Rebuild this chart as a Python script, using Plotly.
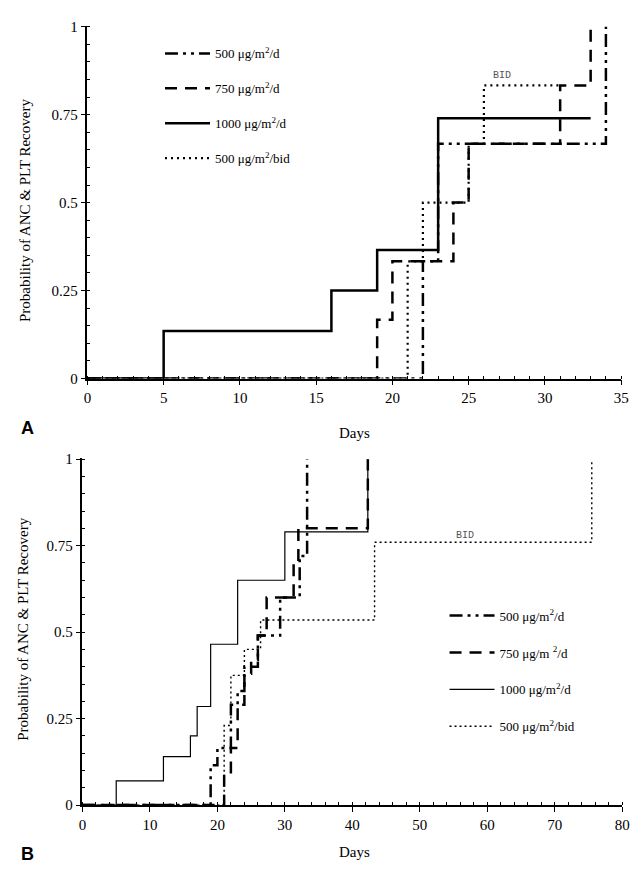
import plotly.graph_objects as go

W, H = 637, 875

# ---------------- Panel A data ----------------
a_500d_x = [0, 22, 23, 34, 34]
a_500d_y = [0, 0.333, 0.667, 0.667, 1.0]
a_750_x = [0, 19, 20, 24, 25, 31, 33, 33]
a_750_y = [0, 0.167, 0.333, 0.5, 0.667, 0.833, 0.833, 1.0]
a_1000_x = [0, 5, 16, 19, 23, 33]
a_1000_y = [0, 0.135, 0.25, 0.365, 0.74, 0.74]
a_bid_x = [0, 21, 22, 25, 26, 31]
a_bid_y = [0, 0.333, 0.5, 0.667, 0.833, 0.833]

# ---------------- Panel B data ----------------
b_500d_x = [0, 19, 20, 22, 23, 24, 26, 29.3, 32.2, 33.3, 33.3]
b_500d_y = [0, 0.115, 0.165, 0.29, 0.33, 0.4, 0.49, 0.6, 0.72, 0.72, 1.0]
b_750_x = [0, 21, 22, 23, 24, 25, 26, 27.3, 31.3, 32, 42.3, 42.3]
b_750_y = [0, 0.095, 0.165, 0.29, 0.38, 0.42, 0.49, 0.6, 0.7, 0.8, 0.8, 1.0]
b_1000_x = [0, 5, 12, 16, 17, 19, 23, 30, 42.3, 42.3]
b_1000_y = [0, 0.07, 0.14, 0.2, 0.285, 0.465, 0.65, 0.79, 0.79, 1.0]
b_bid_x = [0, 21, 22, 24, 26.4, 43.3, 75.5, 75.5]
b_bid_y = [0, 0.23, 0.375, 0.45, 0.535, 0.76, 0.76, 1.0]

a_xticks = [0, 5, 10, 15, 20, 25, 30, 35]
b_xticks = [0, 10, 20, 30, 40, 50, 60, 70, 80]
y_ticks = [0, 0.25, 0.5, 0.75, 1]
y_ticktext = ["0", "0.25", "0.5", "0.75", "1"]

names_a = ["500 μg/m<sup>2</sup>/d", "750 μg/m<sup>2</sup>/d",
           "1000 μg/m<sup>2</sup>/d", "500 μg/m<sup>2</sup>/bid"]
names_b = ["500 μg/m<sup>2</sup>/d", "750 μg/m <sup>2</sup>/d",
           "1000 μg/m<sup>2</sup>/d", "500 μg/m<sup>2</sup>/bid"]

DASHDOT = "13px,5px,3px,5px,3px,5px"
DASH = "12px,8px"
DOT = "2px,4px"

fig = go.Figure()

def add(x, y, name, dash, width, xa, ya, leg, grp):
    fig.add_trace(go.Scatter(
        x=x, y=y, name=name, mode="lines", line_shape="hv",
        line=dict(color="black", width=width, dash=dash),
        xaxis=xa, yaxis=ya, legend=leg, legendgroup=grp,
        hoverinfo="skip"))

add(a_500d_x, a_500d_y, names_a[0], DASHDOT, 2.5, "x", "y", "legend", "a1")
add(a_750_x, a_750_y, names_a[1], DASH, 2.5, "x", "y", "legend", "a2")
add(a_1000_x, a_1000_y, names_a[2], "solid", 2.5, "x", "y", "legend", "a3")
add(a_bid_x, a_bid_y, names_a[3], DOT, 2.2, "x", "y", "legend", "a4")

add(b_500d_x, b_500d_y, names_b[0], DASHDOT, 2.5, "x2", "y2", "legend2", "b1")
add(b_750_x, b_750_y, names_b[1], DASH, 2.5, "x2", "y2", "legend2", "b2")
add(b_1000_x, b_1000_y, names_b[2], "solid", 1.2, "x2", "y2", "legend2", "b3")
add(b_bid_x, b_bid_y, names_b[3], "2px,3px", 1.4, "x2", "y2", "legend2", "b4")

SERIF = "Liberation Serif"
tickfont = dict(family=SERIF, size=15, color="black")

def xaxis(domain, anchor, rng, ticks, minor_dt):
    return dict(domain=domain, anchor=anchor, range=rng, tickvals=ticks,
                showline=True, linecolor="black", linewidth=1.5,
                ticks="outside", ticklen=5, tickwidth=1.2, tickcolor="black",
                ticklabelstandoff=0,
                minor=dict(dtick=minor_dt, ticks="inside", ticklen=3,
                           tickcolor="black", tickwidth=1, showgrid=False),
                showgrid=False, zeroline=False, tickfont=tickfont, fixedrange=True)

def yaxis(domain, anchor):
    return dict(domain=domain, anchor=anchor, range=[0, 1.003],
                tickvals=y_ticks, ticktext=y_ticktext,
                showline=True, linecolor="black", linewidth=1.5,
                ticks="outside", ticklen=5, tickwidth=1.2, tickcolor="black",
                minor=dict(dtick=0.05, ticks="inside", ticklen=3,
                           tickcolor="black", tickwidth=1, showgrid=False),
                showgrid=False, zeroline=False, tickfont=tickfont, fixedrange=True)

legfont = dict(family=SERIF, size=13, color="black")

fig.update_layout(
    width=W, height=H, margin=dict(l=0, r=0, t=0, b=0),
    paper_bgcolor="white", plot_bgcolor="white",
    xaxis=xaxis([85 / W, 629 / W], "y", [0, 35], a_xticks, 1),
    yaxis=yaxis([1 - 378 / H, 1 - 19 / H], "x"),
    xaxis2=xaxis([80 / W, 630 / W], "y2", [0, 80], b_xticks, 2),
    yaxis2=yaxis([1 - 812 / H, 1 - 459 / H], "x2"),
    legend=dict(x=159 / W, y=1 - 32 / H, xanchor="left", yanchor="top",
                bgcolor="rgba(0,0,0,0)", font=legfont, tracegroupgap=15,
                itemwidth=45, traceorder="grouped"),
    legend2=dict(x=449 / W, y=1 - 604 / H, xanchor="left", yanchor="top",
                 bgcolor="rgba(0,0,0,0)", font=legfont, tracegroupgap=17,
                 itemwidth=45, traceorder="grouped"),
    showlegend=True,
)

def note(text, x, y, size=15, family=SERIF, angle=0, xref="paper", yref="paper", color="black"):
    return dict(text=text, textangle=angle, x=x, y=y, xref=xref, yref=yref,
                xanchor="center", yanchor="middle", showarrow=False,
                font=dict(family=family, size=size, color=color))

ann = [
    note("Probability of ANC & PLT Recovery", 22 / W, 1 - 207 / H, angle=-90),
    note("Probability of ANC & PLT Recovery", 20 / W, 1 - 633 / H, angle=-90),
    note("Days", 357 / W, 1 - 433 / H),
    note("Days", 357 / W, 1 - 860 / H),
    note("<b>A</b>", 24 / W, 1 - 428 / H, size=18, family="Liberation Sans"),
    note("<b>B</b>", 24 / W, 1 - 862 / H, size=18, family="Liberation Sans"),
    note("BID", 27.2, 0.86, size=10, family="Liberation Mono", xref="x", yref="y", color="#555555"),
    note("BID", 56.7, 0.78, size=10, family="Liberation Mono", xref="x2", yref="y2", color="#555555"),
]
fig.update_layout(annotations=ann)

fig.write_html("out.html")
